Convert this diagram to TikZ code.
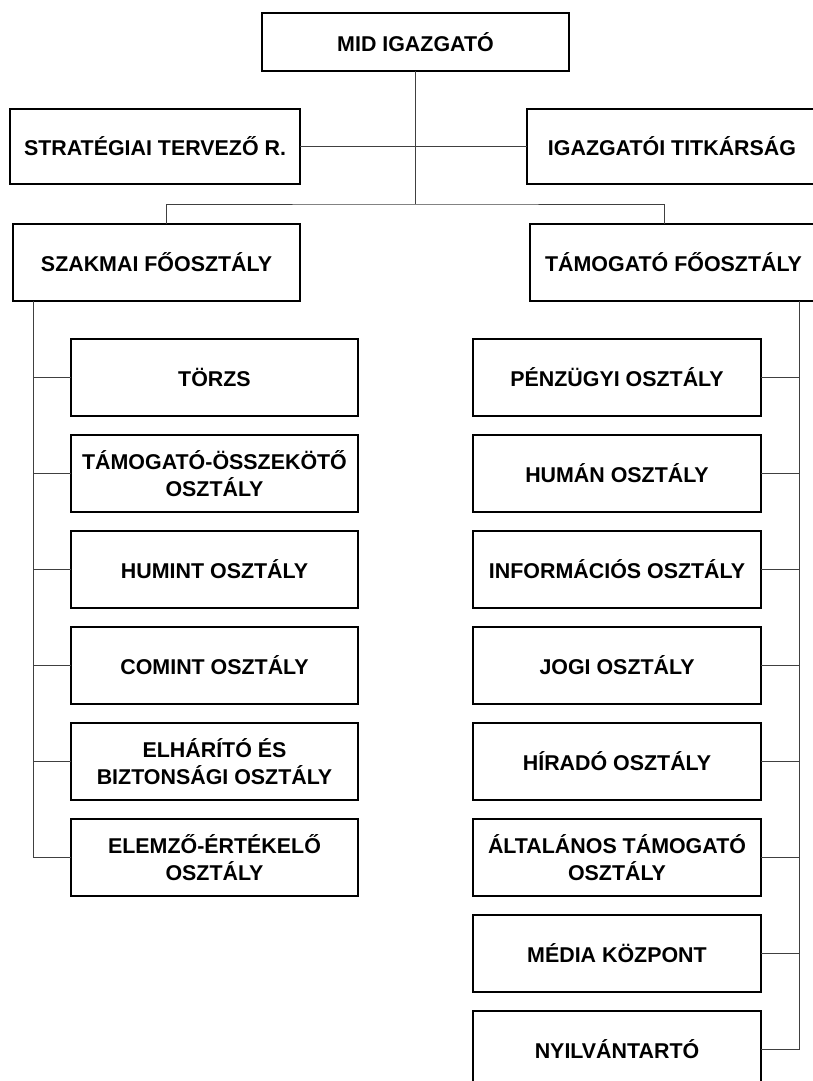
\documentclass[tikz,border=0pt]{standalone}
\usepackage{fontspec}
\setmainfont{Liberation Sans}
\usetikzlibrary{positioning}

\begin{document}
\begin{tikzpicture}[x=1pt, y=-1pt,
topnode/.style={rectangle, draw=black, line width=1.2pt, inner sep=0pt, outer sep=0pt, minimum width=307pt, minimum height=58pt, font=\fontsize{21.4}{27}\selectfont\bfseries, align=center},
headnode/.style={topnode, minimum width=290pt, minimum height=75pt},
mainnode/.style={topnode, minimum width=287pt, minimum height=77pt},
unitnode/.style={topnode, minimum width=288pt, minimum height=77pt},
link/.style={draw=black!75, line width=0.9pt},
]
\useasboundingbox (0,0) rectangle (813,1081);
\clip (0,0) rectangle (813,1081);
\node[topnode](mid) at (415.5,42){MID IGAZGATÓ};
\node[headnode](strat) at (155,146.5){STRATÉGIAI TERVEZŐ R.};
\node[headnode](titk) at (672,146.5){IGAZGATÓI TITKÁRSÁG};
\node[mainnode](szakmai) at (156.5,262.5){SZAKMAI FŐOSZTÁLY};
\node[mainnode](tamfo) at (673.5,262.5){TÁMOGATÓ FŐOSZTÁLY};
\node[mainnode](torzs) at (214.5,377.5){TÖRZS};
\node[mainnode](osszekoto)[below=19pt of torzs]{TÁMOGATÓ-ÖSSZEKÖTŐ\\OSZTÁLY};
\node[mainnode](humint)[below=19pt of osszekoto]{HUMINT OSZTÁLY};
\node[mainnode](comint)[below=19pt of humint]{COMINT OSZTÁLY};
\node[mainnode](elharito)[below=19pt of comint]{ELHÁRÍTÓ ÉS\\BIZTONSÁGI OSZTÁLY};
\node[mainnode](elemzo)[below=19pt of elharito]{ELEMZŐ-ÉRTÉKELŐ\\OSZTÁLY};
\node[unitnode](penzugyi) at (617,377.5){PÉNZÜGYI OSZTÁLY};
\node[unitnode](human)[below=19pt of penzugyi]{HUMÁN OSZTÁLY};
\node[unitnode](informacios)[below=19pt of human]{INFORMÁCIÓS OSZTÁLY};
\node[unitnode](jogi)[below=19pt of informacios]{JOGI OSZTÁLY};
\node[unitnode](hirado)[below=19pt of jogi]{HÍRADÓ OSZTÁLY};
\node[unitnode](altalanos)[below=19pt of hirado]{ÁLTALÁNOS TÁMOGATÓ\\OSZTÁLY};
\node[unitnode](media)[below=19pt of altalanos]{MÉDIA KÖZPONT};
\node[unitnode](nyilv)[below=19pt of media]{NYILVÁNTARTÓ};
\coordinate (elag) at (415.5,204);
\coordinate (bal) at ([xshift=20pt]szakmai.south west);
\coordinate (jobb) at (799,301);
\draw[link] (strat.east) -- (titk.west);
\draw[link] (mid.south) -- (elag);
\draw[link] ([xshift=9.5pt]szakmai.north) |- (elag) -| ([xshift=-9.5pt]tamfo.north);
\draw[link] (bal) |- (elemzo.west);
\foreach \n in {torzs,osszekoto,humint,comint,elharito} \draw[link] (bal |- \n.west) -- (\n.west);
\draw[link] (jobb) |- (nyilv.east);
\foreach \n in {penzugyi,human,informacios,jogi,hirado,altalanos,media} \draw[link] (\n.east) -- (jobb |- \n.east);
\end{tikzpicture}
\end{document}
